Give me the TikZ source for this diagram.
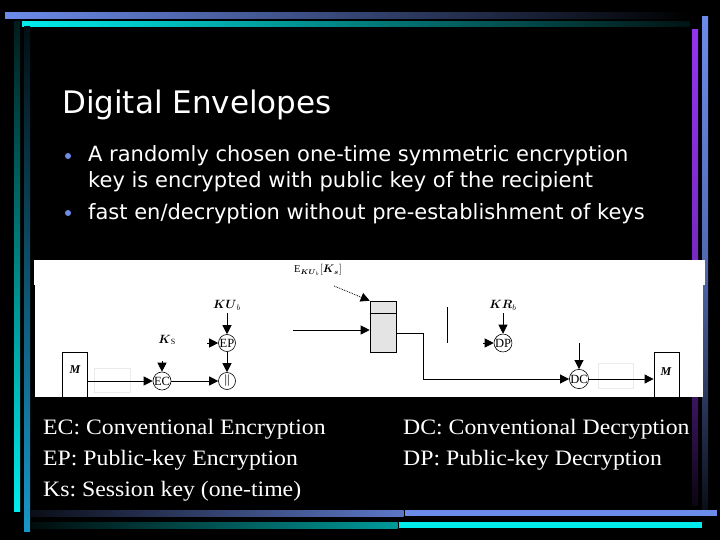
\documentclass[tikz,border=0pt]{standalone}
\usepackage{amsmath}
\usepackage{fontspec}
\setmainfont{Liberation Serif}
\newfontfamily\slidefont{DejaVu Sans}
\newfontfamily\legendfont[FakeStretch=1.08]{Liberation Serif}
\usetikzlibrary{arrows.meta}
\definecolor{barblue}{RGB}{108,140,234}
\definecolor{barcyan}{RGB}{0,236,236}
\definecolor{barpurple}{RGB}{146,52,238}
\definecolor{barsteel}{RGB}{24,150,200}
\definecolor{bulletblue}{RGB}{110,140,230}
\definecolor{envgray}{RGB}{228,228,228}

\begin{document}
\begin{tikzpicture}[x=1pt,y=-1pt,
  every node/.append style={inner sep=0pt},
  arr/.style={line width=0.8pt,-{Triangle[length=9pt,width=9pt]}},
  op/.style={circle,draw,line width=0.6pt,minimum size=17pt,font=\fontsize{12.5}{12.5}\selectfont},
  lbl/.style={font=\fontsize{12}{12}\selectfont\bfseries\itshape},
  msgbox/.style={draw,line width=0.8pt,minimum width=25pt,minimum height=46pt},
  ghost/.style={draw=black!8,line width=0.5pt},
  heading/.style={anchor=base west,text=white,font=\slidefont\fontsize{31}{31}\selectfont},
  point/.style={anchor=base west,text=white,font=\slidefont\fontsize{21}{21}\selectfont},
  dot/.style={circle,fill=bulletblue,minimum size=6pt},
  legend/.style={anchor=base west,text=white,font=\legendfont\fontsize{22}{22}\selectfont\frenchspacing}]
\useasboundingbox (0,0) rectangle (720,540);
\fill [black] (0,0) rectangle (720,540);
\fill [left color=barblue,right color=black] (5,13) rectangle (690,19);
\fill [left color=barcyan,right color=barcyan!8!black] (22,22) rectangle (690,27);
\fill [top color=barcyan!12!black,bottom color=barcyan] (14,22) rectangle (20,511);
\fill [top color=barsteel!10!black,bottom color=barsteel] (24,27) rectangle (30,531);
\fill [top color=barpurple,bottom color=barpurple!8!black,middle color=barpurple!80!black] (692,30) rectangle (698,505);
\fill [top color=barblue,bottom color=barblue!10!black,middle color=barblue!75!black] (702,17) rectangle (708,510);
\fill [left color=barblue!10!black,right color=barblue!85!black] (30,510) rectangle (403.5,516);
\fill [barblue] (404.5,510) rectangle (717,516);
\fill [left color=barcyan!5!black,right color=barcyan!65!black] (30,522) rectangle (397.5,528);
\fill [barcyan] (398.5,522) rectangle (702,528);

\node [heading] (title) at (62,114) {Digital Envelopes};
\node [dot] (dot1) at (68,156) {};
\node [point] (pt1a) at (88,162) {A randomly chosen one-time symmetric encryption};
\node [point] (pt1b) at (88,188) {key is encrypted with public key of the recipient};
\node [dot] (dot2) at (68,213) {};
\node [point] (pt2) at (88,219) {fast en/decryption without pre-establishment of keys};

\fill [white] (34,260) rectangle (705,285);
\fill [white] (35,285) rectangle (703,397);
\begin{scope}
\clip (35,260) rectangle (703,397);
\node [msgbox] (msrc) at (74.5,375) {};
\node [lbl] (msrctxt) at (75,370) {M};
\draw [ghost] (94,368) rectangle (130,392);
\node [op] (ec) at (162,381) {EC};
\node [lbl] (ks) at (167,340) {$\boldsymbol{K}_{\mathrm{S}}$};
\node [op] (ep) at (227,343) {EP};
\node [lbl] (kub) at (227,305) {$\boldsymbol{KU}_b$};
\node [op] (cat) at (227,381) {||};
\node [font=\fontsize{10.5}{10.5}\selectfont] (ekey) at (318,270) {E$_{\boldsymbol{KU}_b}[\boldsymbol{K}_{\boldsymbol{s}}]$};
\node [draw,line width=0.6pt,fill=envgray,minimum width=26pt,minimum height=51pt] (env) at (383,326.5) {};
\node [op] (dp) at (503,343) {DP};
\node [lbl] (krb) at (503,305) {$\boldsymbol{KR}_b$};
\node [op] (dc) at (579,379) {DC};
\draw [ghost] (598,363) rectangle (633,388);
\node [msgbox] (mdst) at (666.5,375) {};
\node [lbl] (mdsttxt) at (666,372) {M};

\coordinate (ksfeed) at (162,361);
\coordinate (kubfeed) at (227,313);
\coordinate (epfeed) at (207,343);
\coordinate (ekeytail) at (334,286);
\coordinate (envfeed) at (293,330);
\coordinate (krbfeed) at (503,313);
\coordinate (dpfeed) at (483,343);
\coordinate (dcfeed) at (579,343);

\draw [arr] (msrc.east |- ec.west) -- (ec.west);
\draw [arr] (ksfeed) -- (ec.north);
\draw [arr] (kubfeed) -- (ep.north);
\draw [arr] (epfeed) -- (ep.west);
\draw [arr] (ep.south) -- (cat.north);
\draw [arr] (ec.east) -- (cat.west);
\draw [arr,densely dotted] (ekeytail) -- (env.north west);
\draw [arr] (envfeed) -- (envfeed -| env.west);
\draw [line width=0.6pt] (env.west |- 0,313) -- (env.east |- 0,313);
\draw [arr] (env.east |- 0,333) -- ++(27,0) |- (dc.west);
\draw [line width=0.8pt] (447,307) -- (447,343);
\draw [arr] (krbfeed) -- (dp.north);
\draw [arr] (dpfeed) -- (dp.west);
\draw [arr] (dcfeed) -- (dc.north);
\draw [arr] (dc.east) -- (mdst.west |- dc.east);
\end{scope}

\node [legend] (ec-key) at (43,434) {EC: Conventional Encryption};
\node [legend] (ep-key) at (43,465) {EP: Public-key Encryption};
\node [legend] (ks-key) at (43,496) {Ks: Session key (one-time)};
\node [legend] (dc-key) at (403,434) {DC: Conventional Decryption};
\node [legend] (dp-key) at (403,465) {DP: Public-key Decryption};
\end{tikzpicture}
\end{document}
